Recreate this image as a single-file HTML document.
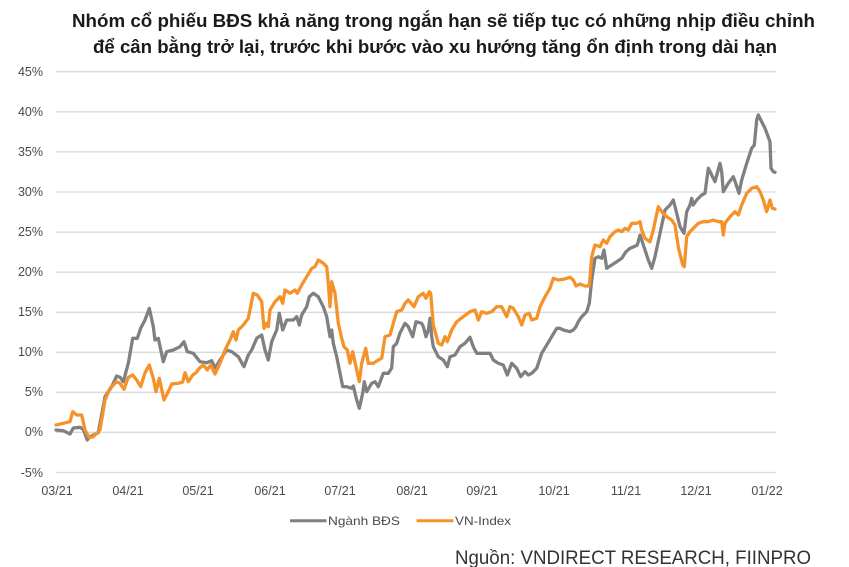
<!DOCTYPE html>
<html>
<head>
<meta charset="utf-8">
<style>
  html, body { margin: 0; padding: 0; background: #ffffff; }
  svg { display: block; }
  text { font-family: "Liberation Sans", "DejaVu Sans", sans-serif; }
</style>
</head>
<body>
<svg width="849" height="567" viewBox="0 0 849 567" xmlns="http://www.w3.org/2000/svg">
  <rect width="849" height="567" fill="#ffffff"/>

  <!-- Title -->
  <text x="72" y="27" font-size="18" font-weight="bold" fill="#1a1a1a" textLength="743" lengthAdjust="spacingAndGlyphs">Nhóm cổ phiếu BĐS khả năng trong ngắn hạn sẽ tiếp tục có những nhịp điều chỉnh</text>
  <text x="93" y="53" font-size="18" font-weight="bold" fill="#1a1a1a" textLength="684" lengthAdjust="spacingAndGlyphs">để cân bằng trở lại, trước khi bước vào xu hướng tăng ổn định trong dài hạn</text>

  <!-- Gridlines -->
  <g stroke="#d9d9d9" stroke-width="1.3">
    <line x1="56" y1="71.7" x2="776" y2="71.7"/>
    <line x1="56" y1="111.8" x2="776" y2="111.8"/>
    <line x1="56" y1="151.9" x2="776" y2="151.9"/>
    <line x1="56" y1="192" x2="776" y2="192"/>
    <line x1="56" y1="232.1" x2="776" y2="232.1"/>
    <line x1="56" y1="272.2" x2="776" y2="272.2"/>
    <line x1="56" y1="312.3" x2="776" y2="312.3"/>
    <line x1="56" y1="352.3" x2="776" y2="352.3"/>
    <line x1="56" y1="392.3" x2="776" y2="392.3"/>
    <line x1="56" y1="432.3" x2="776" y2="432.3"/>
    <line x1="56" y1="472.5" x2="776" y2="472.5"/>
  </g>

  <!-- Y labels -->
  <g font-size="12.5" fill="#4a4a4a" text-anchor="end">
    <text x="43" y="76">45%</text>
    <text x="43" y="116">40%</text>
    <text x="43" y="156">35%</text>
    <text x="43" y="196">30%</text>
    <text x="43" y="236">25%</text>
    <text x="43" y="276">20%</text>
    <text x="43" y="316">15%</text>
    <text x="43" y="356">10%</text>
    <text x="43" y="396">5%</text>
    <text x="43" y="436">0%</text>
    <text x="43" y="477">-5%</text>
  </g>

  <!-- X labels -->
  <g font-size="12.5" fill="#4a4a4a" text-anchor="middle">
    <text x="57" y="495">03/21</text>
    <text x="128" y="495">04/21</text>
    <text x="198" y="495">05/21</text>
    <text x="270" y="495">06/21</text>
    <text x="340" y="495">07/21</text>
    <text x="412" y="495">08/21</text>
    <text x="482" y="495">09/21</text>
    <text x="554" y="495">10/21</text>
    <text x="626" y="495">11/21</text>
    <text x="696" y="495">12/21</text>
    <text x="767" y="495">01/22</text>
  </g>

  <!-- Grey series: Ngành BĐS -->
  <polyline fill="none" stroke="#808083" stroke-width="3.3" stroke-linejoin="round" stroke-linecap="round"
    points="56,430 63.3,430.7 70,434 73.3,428 80,427.3 83.3,429.3 87.3,440 90,436.7 98.3,432.7 105,396.7 111.7,386.7 116.7,376 120,377.3 123.3,381.7 128.3,363.3 132.7,338.3 137.3,338.3 140.7,328.3 145,320 149.3,308.3 153.3,326.7 155,340 158.3,338.3 163.3,361.7 166.7,351.7 173.3,350 180,346.7 184,341.7 187.3,351.7 193.3,353.3 200,361.7 206.7,362.7 211.7,360.7 215,368.3 220,360 226.7,350 231.7,351.7 238.3,356.7 244,366.7 248.3,355 251.7,350 256.7,338.3 261.7,335 265,350 268.3,360 271.7,341.7 276.7,330 279.3,313.3 282.7,330 286.7,320 293.3,320 296.7,316.7 299.3,325 301.7,315 306.7,306.7 309.3,296.7 313.3,293.3 318.3,296.7 323.3,306.7 326.7,316.7 330,336.7 331.7,330 333.3,343.3 336.7,356.7 340.7,376.7 342.7,386.7 346.7,386.7 351.7,388.3 353.3,386 356.7,400 359.3,408.3 362.7,393.3 364.3,381.7 366.7,391.7 371.7,383.3 375,381.7 378.3,386.7 383.3,373.3 388.3,373.3 391.7,368 393.3,346.7 396.7,343.3 400,333 405,323.3 408.3,326.7 412.7,336.7 416,321.7 421.7,323.3 423.3,326.7 426,336.7 428.3,330 430,318.3 431.7,336.7 433.3,346.7 438.3,356.7 443.3,360 447.3,366.7 450,356.7 455,355 460,346.7 465,343.3 470,337.3 473.3,346.7 476.7,353.3 483.3,353.3 490,353.3 493.3,360 498.3,363.3 503.3,365 507.3,375 511.7,363.3 516.7,368.3 520.7,376.7 525,371.7 528.3,375 531.7,373.3 536.7,368.3 541.7,353.3 546.7,345 551.7,336.7 556.7,328.3 560,328.3 563.3,330 570,331.7 573.3,330 576,326.7 578.3,321.7 581.7,316.7 586.7,311.7 589.3,303.3 591.7,280 595,258.3 598.3,256.7 601.7,258.3 604,250 606.7,268.3 611.7,265 616.7,261.7 621.7,258.3 626,251.7 630,248.3 634,246.7 637.3,245 640,235 641.7,240 645,250 648.3,260 651.7,268.3 655,256.7 660,233.3 665,210 670,205 673.3,200 676.7,213.3 680,226.7 684,233.3 686.7,211.7 690,205 691.7,198.3 693.3,205 696.7,200 701.7,195 705,193.3 708.3,168.3 711.7,175 715,181.7 717.7,171.7 720,163.3 721.7,171.7 723.3,191.7 728.3,183.3 733.3,176.7 735.7,183.3 739,193.3 741.7,180 746.7,163.3 751.7,148.3 754.3,145 756.7,120 758.3,115 761.7,121.7 765,128.3 770,141.7 771,168.3 773.3,171.7 775,172.3"/>

  <!-- Orange series: VN-Index -->
  <polyline fill="none" stroke="#f5922a" stroke-width="3.3" stroke-linejoin="round" stroke-linecap="round"
    points="56,425 63.3,423.3 70,421.7 72.7,411.7 76.7,415 81.7,415 85,430 89.3,437.7 93.3,436.7 100,430 105,400 110,388.3 116.7,381.7 120,383.3 124,389.3 128.3,377.3 132.7,375 136.7,380 140.7,386.7 145,372.7 149.3,365 153.3,378.3 156,391.7 159.3,378.3 164,400 168.3,391.7 171.7,384 178.3,383.3 182.7,382 185,372.7 188.3,381.7 192.7,375 196,372.7 199.3,368.3 203.3,365 207.3,370 210.7,365 215,374 220.7,361.7 225,350 230,340 233.3,331.7 236,340 238.3,330 243.3,325 248.3,318.3 253.3,293.3 257.3,295 261.7,301.7 264,328.3 266.7,323.3 268.3,326.7 270,310 275,301.7 280,296.7 282.7,303.3 285,290 290,293.3 295,290 297.3,293.3 301.7,285 306.7,276.7 311.7,268.3 315,266.7 318.3,260 323.3,263.3 326.7,266.7 328.3,283.3 330,306.7 331.7,281.7 335,293.3 338.3,323.3 341.7,338.3 344,346.7 347.3,350 350,363.3 352.7,351.7 356.7,370 359.3,381.7 361.7,363.3 365.7,348.3 368.3,363.3 373.3,363.3 378.3,360 381.7,358.3 385,336.7 390,335 393.3,323.3 396.7,311.7 401.7,310 405,303.3 408.3,300 414,306.7 418.3,296.7 423.3,293.3 426,298.3 429.3,291.7 430.7,293.3 433.3,325 438.3,343.3 441.7,345 445,336.7 447.3,341.7 451.7,330 456.7,321.7 463.3,316.7 470,311.7 475,310 478.3,320 481.7,311.7 486.7,313.3 491.7,311.7 496.7,306.7 501.7,306.7 506.7,316.7 510,306.7 513.3,308.3 518.3,316.7 521.7,325 525,315 529.3,313.3 531.7,320 536.7,318.3 540,306.7 545,296.7 550,288.3 553.3,278.3 558.3,280 563.3,279.3 570,277.3 573.3,280 576,286 580,284 585,286 589.3,286 591.7,256.7 595,245 600,246.7 603.3,240 606.7,243.3 610,236.7 615,231.7 618.3,230 621.7,231.7 625,228.3 628.3,230 631.7,223.3 636.7,223.3 640,221.7 641.7,230 645,238.3 650,241.7 653.3,230 658.3,206.7 661.7,211.7 666.7,216.7 671.7,220 675,225 678.3,247 682.7,265 684.3,266.7 686.7,236.7 690,231.7 693.3,228.3 698.3,223.3 703.3,221.7 708.3,221.7 713.3,220 718.3,221.7 721.7,221.7 723.3,235 725,223.3 730,216.7 735,211.7 738.3,215 741.7,205 746.7,193.3 751.7,188.3 756.7,186.7 760,191.7 763.3,200 766.7,211.7 770,200 772.3,208.3 775,209"/>

  <!-- Legend -->
  <line x1="290" y1="520.7" x2="326.5" y2="520.7" stroke="#808083" stroke-width="3"/>
  <text x="328" y="525" font-size="12" fill="#4a4a4a" textLength="72" lengthAdjust="spacingAndGlyphs">Ngành BĐS</text>
  <line x1="416.5" y1="520.7" x2="453.5" y2="520.7" stroke="#f5922a" stroke-width="3"/>
  <text x="455" y="525" font-size="12" fill="#4a4a4a" textLength="56" lengthAdjust="spacingAndGlyphs">VN-Index</text>

  <!-- Source -->
  <text x="455" y="564" font-size="19" fill="#333333" textLength="356" lengthAdjust="spacingAndGlyphs">Nguồn: VNDIRECT RESEARCH, FIINPRO</text>
</svg>
</body>
</html>
